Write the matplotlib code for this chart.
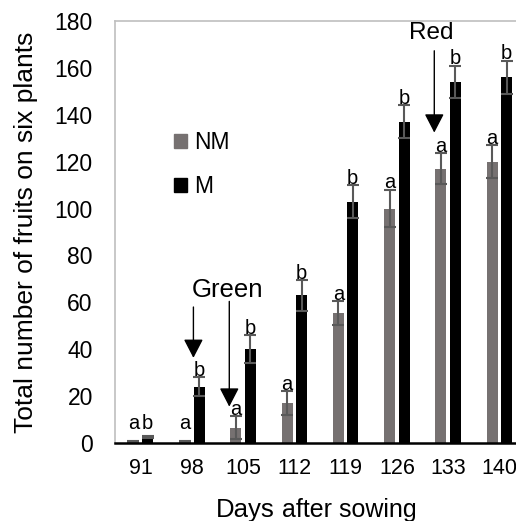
import numpy as np
import matplotlib
matplotlib.use("Agg")
import matplotlib.pyplot as plt
from matplotlib.patches import Patch

matplotlib.rcParams['font.family'] = ['Liberation Sans', 'DejaVu Sans']

days = ['91', '98', '105', '112', '119', '126', '133', '140']
nm_mean = [0.5, 0.5, 6.5, 17, 55.5, 100, 117, 120]
nm_err = [0.3, 0.3, 5, 5, 5, 8, 6.5, 7]
m_mean = [2.5, 24, 40, 63, 103, 137, 154, 156]
m_err = [0.5, 4, 6, 6.5, 7, 7, 7, 7]
nm_letters = ['a'] * 8
m_letters = ['b'] * 8

gray = '#767171'
err_color = '#595959'

fig = plt.figure(figsize=(5.16, 5.21), dpi=100)
ax = fig.add_axes([115 / 516, 78 / 521, 410 / 516, 422 / 521])

x = np.arange(len(days))
w = 0.215
off = 0.14
ax.bar(x - off, nm_mean, w, color=gray, yerr=nm_err, capsize=4,
       error_kw=dict(ecolor=err_color, elinewidth=1.5, capthick=1.5), zorder=2)
ax.bar(x + off, m_mean, w, color='black', yerr=m_err, capsize=4,
       error_kw=dict(ecolor=err_color, elinewidth=1.5, capthick=1.5), zorder=2)

for i in range(len(days)):
    ax.annotate(nm_letters[i], (x[i] - off, max(nm_mean[i] + nm_err[i], 5.5)),
                xytext=(0, 1), textcoords='offset points',
                ha='center', va='baseline', fontsize=14.5)
    ax.annotate(m_letters[i], (x[i] + off, max(m_mean[i] + m_err[i], 5.5)),
                xytext=(0, 1), textcoords='offset points',
                ha='center', va='baseline', fontsize=14.5)

# stage arrows
arrow_kw = dict(arrowstyle='-|>,head_length=0.58,head_width=0.3', mutation_scale=20,
                color='black', lw=1, shrinkA=0, shrinkB=0)
ax.annotate('', xy=(1.03, 36.3), xytext=(1.03, 58), arrowprops=arrow_kw)
ax.annotate('', xy=(1.73, 15.5), xytext=(1.73, 60.4), arrowprops=arrow_kw)
ax.annotate('', xy=(5.73, 132.4), xytext=(5.73, 167.3), arrowprops=arrow_kw)
ax.text(1.70, 65.4, 'Green', ha='center', va='center', fontsize=18.5)
ax.text(5.67, 175, 'Red', ha='center', va='center', fontsize=17.5)

ax.set_xlim(-0.5, 7.5)
ax.set_ylim(0, 180)
ax.set_yticks(range(0, 181, 20))
ax.set_xticks(x)
ax.set_xticklabels(days)
ax.tick_params(axis='y', length=0, pad=16, labelsize=16.5)
ax.tick_params(axis='x', length=0, pad=11, labelsize=15.5)

for s in ['top', 'left', 'right']:
    ax.spines[s].set_color('#bfbfbf')
    ax.spines[s].set_linewidth(1.2)
ax.spines['bottom'].set_color('black')
ax.spines['bottom'].set_linewidth(1.8)
ax.spines['bottom'].set_zorder(3)

ax.set_ylabel('Total number of fruits on six plants', fontsize=19)
ax.yaxis.set_label_coords(-0.187, 0.5)
t = fig.text(216 / 516, 4 / 521, 'Days', ha='left', va='baseline', fontsize=18.5)
ax.annotate(' after sowing', xy=(1, 0), xycoords=t, va='bottom', ha='left', fontsize=18)

handles = [Patch(color=gray), Patch(color='black')]
ax.legend(handles, ['NM', 'M'], loc='upper left', bbox_to_anchor=(0.145, 0.74),
          frameon=False, fontsize=16.5, handlelength=0.55, handleheight=0.55,
          handletextpad=0.3, labelspacing=0.95, borderpad=0, borderaxespad=0)

fig.savefig('out.png', dpi=100)
